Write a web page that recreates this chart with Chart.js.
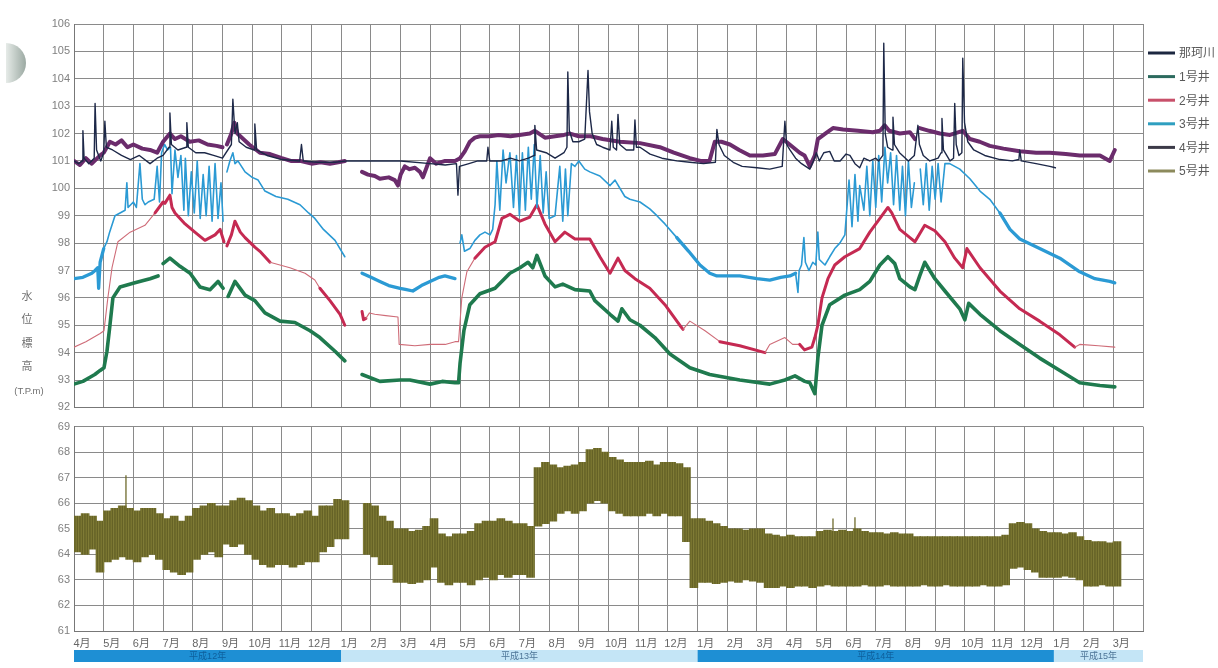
<!DOCTYPE html>
<html>
<head>
<meta charset="utf-8">
<script src="https://cdn.jsdelivr.net/npm/chart.js@4.4.1/dist/chart.umd.min.js"></script>
<style>
  html, body { margin: 0; padding: 0; background: #fff; }
  #wrap { position: relative; width: 1218px; height: 668px; overflow: hidden; background: #fff; }
  #upper { position: absolute; left: 0; top: 0; }
  #lower { position: absolute; left: 0; top: 416px; }
  #badge {
    position: absolute; left: 6px; top: 43px; width: 20px; height: 40px;
    border-radius: 0 20px 20px 0;
    background: linear-gradient(to right, #e6ebe8, #9ba9a2);
  }
</style>
</head>
<body>
<div id="wrap">
  <div id="badge"></div>
  <canvas id="upper" width="1218" height="418"></canvas>
  <canvas id="lower" width="1218" height="252"></canvas>
</div>
<script>
// ---- time axis: months counted from 平成12年4月 ----
const monthLabels = [
  '4月','5月','6月','7月','8月','9月','10月','11月','12月',
  '1月','2月','3月','4月','5月','6月','7月','8月','9月','10月','11月','12月',
  '1月','2月','3月','4月','5月','6月','7月','8月','9月','10月','11月','12月',
  '1月','2月','3月'
];
const eraBands = [
  ['平成12年', 0, 9],
  ['平成13年', 9, 21],
  ['平成14年', 21, 33],
  ['平成15年', 33, 36]
];
const seriesNames = ['那珂川', '1号井', '2号井', '3号井', '4号井', '5号井'];

// ---- water levels (T.P.m), [month, level]; null = no record ----
const naka = [
  [0,101.0],[0.15,100.9],[0.28,101.0],[0.30,102.1],[0.34,101.1],[0.5,100.9],[0.68,101.1],[0.71,103.1],[0.76,101.4],
  [0.9,101.0],[1.0,101.3],[1.04,102.45],[1.09,101.5],[1.3,101.4],[1.6,101.2],[1.9,101.05],[2.2,101.2],[2.56,100.9],
  [2.8,101.1],[3.0,101.2],[3.2,101.5],[3.23,102.75],[3.28,101.6],[3.5,101.4],[3.78,101.5],[3.80,102.4],[3.85,101.5],
  [4.1,101.3],[4.4,101.3],[4.7,101.2],[5.0,101.1],[5.3,101.6],[5.35,103.25],[5.42,102.0],[5.5,102.4],[5.56,101.7],
  [5.8,101.5],[6.07,101.4],[6.09,102.35],[6.15,101.4],[6.5,101.2],[7.0,101.05],[7.6,101.0],[7.66,101.6],[7.72,101.0],
  [8.2,100.95],[8.8,100.95],[9.2,101.0],[10.0,101.0],[11.0,101.0],[12.0,100.9],[12.5,100.85],[12.88,100.9],
  [12.93,99.75],[12.98,100.8],[13.3,100.9],[13.6,101.0],[13.9,101.0],[13.94,101.5],[14.0,101.0],[14.4,101.0],
  [14.7,101.1],[15.0,101.0],[15.3,101.1],[15.5,101.2],[15.52,102.3],[15.58,101.4],[15.9,101.3],[16.2,101.1],
  [16.5,101.3],[16.6,101.5],[16.63,104.25],[16.68,102.1],[16.8,101.7],[17.0,101.7],[17.2,101.8],[17.31,104.3],
  [17.36,102.8],[17.45,102.0],[17.6,101.6],[17.8,101.5],[18.05,101.4],[18.11,102.45],[18.16,101.5],[18.27,101.4],
  [18.32,102.7],[18.38,101.6],[18.6,101.4],[18.85,101.4],[18.89,102.5],[18.94,101.5],[19.06,101.5],[19.4,101.25],
  [19.8,101.1],[20.3,101.0],[20.74,100.95],[21.2,100.9],[21.6,100.95],[21.65,102.15],[21.72,101.6],[21.9,101.2],
  [22.2,100.95],[22.5,100.8],[23.0,100.75],[23.43,100.7],[23.85,100.8],[23.94,102.45],[24.0,101.6],[24.11,101.4],
  [24.3,101.1],[24.5,100.9],[24.78,100.7],[24.9,101.0],[25.0,101.3],[25.1,101.0],[25.25,101.3],[25.45,101.35],
  [25.6,101.0],[25.8,101.0],[26.0,101.25],[26.13,101.2],[26.3,100.9],[26.46,100.75],[26.6,101.1],[26.8,101.0],
  [27.0,101.1],[27.1,101.0],[27.24,101.2],[27.27,105.3],[27.32,102.0],[27.4,101.5],[27.55,101.4],[27.58,102.6],
  [27.63,101.6],[27.8,101.3],[28.1,101.0],[28.3,101.2],[28.42,102.3],[28.47,101.6],[28.6,101.2],[28.82,101.0],
  [29.1,101.1],[29.2,101.3],[29.23,102.55],[29.28,101.4],[29.5,101.0],[29.62,101.1],[29.66,103.1],[29.71,101.6],
  [29.8,101.2],[29.9,101.3],[29.93,104.75],[29.99,102.4],[30.1,101.7],[30.3,101.4],[30.67,101.2],[31.18,101.05],
  [31.6,101.0],[31.82,101.05],[31.85,101.4],[31.9,101.0],[32.4,100.9],[32.86,100.8],[33.05,100.75]
];

const well1 = [
  [0,92.85],[0.3,92.95],[0.54,93.1],[0.7,93.2],[0.88,93.35],[1.01,93.45],[1.11,94.05],[1.21,95.0],[1.31,96.0],
  [1.55,96.4],[2.05,96.55],[2.56,96.7],[2.83,96.8],[2.87,null],[3.0,97.25],[3.23,97.45],[3.57,97.15],[3.91,96.9],
  [4.24,96.4],[4.58,96.3],[4.85,96.6],[5.02,96.35],[5.08,null],[5.19,96.05],[5.42,96.6],[5.76,96.1],[6.09,95.9],
  [6.43,95.45],[6.94,95.15],[7.44,95.1],[7.95,94.8],[8.28,94.55],[8.79,94.05],[9.12,93.7],[9.2,null],[9.7,93.2],
  [10.3,92.95],[10.98,93.0],[11.31,93.0],[11.99,92.85],[12.4,92.95],[12.83,92.9],[12.95,92.9],[13.0,93.6],
  [13.13,94.8],[13.33,95.75],[13.67,96.15],[14.18,96.35],[14.68,96.9],[15.02,97.1],[15.29,97.3],[15.45,97.1],
  [15.59,97.55],[15.86,96.8],[16.2,96.4],[16.46,96.5],[16.87,96.3],[17.37,96.25],[17.54,95.9],[18.05,95.4],
  [18.32,95.15],[18.45,95.6],[18.72,95.2],[19.06,95.0],[19.56,94.55],[20.07,93.95],[20.74,93.45],[21.41,93.2],
  [22.42,93.0],[23.43,92.85],[23.94,93.0],[24.28,93.15],[24.61,92.95],[24.78,92.9],[24.95,92.5],[25.05,93.8],
  [25.19,95.0],[25.45,95.75],[25.96,96.1],[26.46,96.3],[26.8,96.6],[27.14,97.2],[27.41,97.5],[27.64,97.25],
  [27.81,96.7],[28.15,96.4],[28.32,96.3],[28.48,96.8],[28.65,97.3],[28.99,96.7],[29.33,96.25],[29.83,95.6],
  [30.0,95.2],[30.13,95.8],[30.51,95.4],[31.18,94.8],[31.85,94.3],[32.52,93.8],[33.2,93.35],[33.87,92.9],
  [34.55,92.8],[35.05,92.75]
];

const well2 = [
  [0,94.2],[0.4,94.4],[0.88,94.7],[1.01,94.8],[1.14,96.0],[1.28,97.1],[1.48,98.05],[1.89,98.4],[2.39,98.65],
  [2.73,99.1],[3.0,99.5],[3.06,99.45],[3.23,99.75],[3.3,99.3],[3.4,99.1],[3.74,98.7],[4.07,98.4],[4.41,98.1],
  [4.75,98.3],[4.92,98.5],[5.05,98.05],[5.1,null],[5.15,97.9],[5.3,98.3],[5.42,98.8],[5.6,98.4],[5.76,98.2],
  [6.09,97.85],[6.26,97.7],[6.6,97.3],[7.27,97.1],[7.78,96.9],[8.11,96.65],[8.28,96.35],[8.62,95.9],[8.96,95.4],
  [9.12,95.0],[9.2,null],[9.7,95.5],[9.75,95.2],[9.83,95.25],[9.95,95.45],[10.13,95.4],[10.5,95.35],[10.91,95.3],
  [10.95,94.3],[11.48,94.25],[12.0,94.3],[12.5,94.3],[12.83,94.4],[12.95,94.4],[13.06,96.0],[13.23,96.95],
  [13.5,97.45],[13.84,97.85],[14.18,98.05],[14.41,98.9],[14.68,99.05],[15.02,98.8],[15.35,98.95],[15.59,99.4],
  [15.86,98.7],[16.2,98.05],[16.53,98.4],[16.87,98.15],[17.37,98.15],[17.71,97.5],[18.05,96.9],[18.32,97.45],
  [18.55,97.0],[18.89,96.7],[19.39,96.35],[19.9,95.75],[20.4,95.0],[20.51,94.85],[20.74,95.15],[21.25,94.8],
  [21.75,94.4],[22.42,94.25],[23.27,94.0],[23.43,94.3],[23.94,94.55],[24.2,94.3],[24.44,94.3],[24.6,94.1],
  [24.85,94.2],[24.95,94.55],[25.05,95.0],[25.19,96.0],[25.39,96.7],[25.62,97.2],[25.96,97.5],[26.46,97.8],
  [26.8,98.4],[27.14,98.9],[27.41,99.3],[27.54,99.1],[27.81,98.5],[28.15,98.2],[28.32,98.05],[28.65,98.65],
  [28.99,98.45],[29.33,98.05],[29.66,97.45],[29.93,97.1],[30.07,97.8],[30.51,97.1],[31.18,96.25],[31.85,95.6],
  [32.52,95.15],[33.2,94.65],[33.7,94.2],[33.87,94.3],[34.5,94.25],[35.05,94.2]
];

const well3 = [
  [0,96.7],[0.3,96.75],[0.6,96.9],[0.71,97.0],[0.8,97.1],[0.83,96.35],[0.88,97.3],[1.0,97.8],[1.11,98.05],
  [1.2,98.4],[1.38,99.0],[1.55,99.1],[1.72,99.2],[1.78,100.2],[1.82,99.3],[2.0,99.5],[2.1,99.3],[2.22,100.9],
  [2.3,99.6],[2.39,99.4],[2.5,99.5],[2.7,99.6],[2.8,100.8],[2.88,99.5],[2.95,101.3],[3.05,101.6],[3.15,101.4],
  [3.25,101.5],[3.3,99.8],[3.4,101.4],[3.5,100.4],[3.6,101.2],[3.7,99.2],[3.75,101.1],[3.85,99.0],[3.95,100.6],
  [4.05,99.1],[4.15,101.0],[4.25,98.9],[4.35,100.5],[4.45,99.0],[4.55,100.8],[4.65,98.8],[4.75,100.9],[4.85,98.9],
  [4.95,100.2],[5.02,98.8],[5.06,null],[5.15,100.6],[5.25,101.0],[5.35,101.3],[5.42,100.9],[5.52,101.0],
  [5.76,100.6],[6.0,100.4],[6.2,100.3],[6.43,99.9],[6.8,99.7],[7.2,99.6],[7.61,99.4],[7.9,99.1],[8.11,98.9],
  [8.4,98.5],[8.79,98.1],[9.12,97.5],[9.2,null],[9.7,96.9],[10.0,96.75],[10.3,96.6],[10.6,96.45],[10.98,96.35],
  [11.2,96.3],[11.41,96.25],[11.7,96.45],[11.99,96.6],[12.3,96.75],[12.49,96.8],[12.83,96.7],[12.9,null],
  [13.0,98.0],[13.06,98.3],[13.15,97.7],[13.33,97.8],[13.5,98.1],[13.67,98.3],[13.84,98.4],[14.01,98.3],[14.1,98.5],
  [14.18,99.4],[14.24,101.0],[14.34,99.2],[14.45,101.4],[14.55,100.2],[14.68,101.3],[14.8,99.3],[14.9,101.2],
  [15.0,99.0],[15.1,101.3],[15.2,99.2],[15.3,101.5],[15.4,99.6],[15.5,101.6],[15.59,99.3],[15.7,101.2],[15.8,99.1],
  [15.9,100.6],[16.0,98.9],[16.2,99.0],[16.36,100.8],[16.46,98.8],[16.55,100.7],[16.63,99.0],[16.75,100.9],
  [16.87,100.8],[17.0,101.0],[17.2,100.7],[17.37,100.6],[17.71,100.45],[18.05,100.1],[18.22,100.3],[18.55,99.7],
  [18.72,99.6],[19.06,99.5],[19.39,99.25],[19.63,99.0],[19.9,98.7],[20.3,98.2],[20.7,97.7],[21.08,97.2],
  [21.41,96.9],[21.65,96.8],[22.42,96.8],[23.0,96.7],[23.43,96.65],[23.8,96.75],[24.11,96.8],[24.3,96.9],
  [24.38,96.2],[24.42,97.0],[24.5,97.2],[24.58,98.2],[24.63,97.3],[24.75,97.0],[24.88,97.3],[24.98,97.2],
  [25.05,98.4],[25.1,97.4],[25.29,97.2],[25.45,97.5],[25.62,97.8],[25.79,98.0],[25.96,98.3],[26.1,100.3],
  [26.2,98.6],[26.3,100.5],[26.4,98.8],[26.46,100.1],[26.6,99.2],[26.7,100.8],[26.8,99.0],[26.9,101.0],[27.0,99.3],
  [27.1,101.2],[27.2,99.5],[27.31,101.5],[27.4,100.2],[27.5,101.3],[27.6,99.4],[27.7,101.2],[27.81,99.2],
  [27.9,100.8],[28.0,99.0],[28.1,101.0],[28.2,99.3],[28.3,100.2],[28.38,null],[28.5,100.7],[28.6,99.4],
  [28.7,100.9],[28.8,99.2],[28.9,100.8],[29.0,99.6],[29.1,100.9],[29.2,99.5],[29.33,100.9],[29.49,100.9],
  [29.83,100.7],[30.17,100.35],[30.51,99.9],[30.84,99.6],[31.18,99.1],[31.52,98.5],[31.85,98.15],[32.52,97.8],
  [33.2,97.45],[33.87,96.95],[34.38,96.7],[34.88,96.6],[35.05,96.55]
];

const well4 = [
  [0,101.0],[0.2,100.85],[0.4,101.1],[0.6,100.9],[0.88,101.2],[1.0,101.3],[1.21,101.7],[1.4,101.6],[1.6,101.75],
  [1.8,101.5],[2.0,101.6],[2.3,101.45],[2.56,101.4],[2.8,101.3],[3.0,101.7],[3.23,102.0],[3.4,101.8],[3.6,101.9],
  [3.9,101.7],[4.2,101.75],[4.5,101.6],[4.8,101.55],[5.0,101.5],[5.08,null],[5.15,101.6],[5.3,102.0],[5.4,102.4],
  [5.5,102.0],[5.7,101.8],[5.9,101.6],[6.26,101.3],[6.6,101.25],[7.0,101.1],[7.3,101.0],[7.61,101.0],[8.0,100.9],
  [8.3,100.95],[8.62,100.9],[8.9,100.95],[9.12,101.0],[9.2,null],[9.7,100.6],[9.9,100.5],[10.13,100.45],
  [10.3,100.35],[10.6,100.4],[10.8,100.3],[10.91,100.1],[11.0,100.5],[11.14,100.8],[11.3,100.7],[11.48,100.75],
  [11.65,100.6],[11.75,100.4],[11.99,101.1],[12.2,100.9],[12.5,101.0],[12.83,101.0],[13.0,101.1],[13.16,101.35],
  [13.33,101.7],[13.5,101.85],[13.67,101.9],[14.0,101.9],[14.3,101.95],[14.7,101.9],[15.0,101.95],[15.35,102.0],
  [15.52,102.1],[15.86,101.85],[16.2,101.9],[16.5,101.95],[16.7,102.0],[17.0,101.9],[17.4,101.9],[17.8,101.8],
  [18.38,101.7],[19.06,101.65],[19.73,101.5],[20.2,101.3],[20.74,101.1],[21.1,101.0],[21.4,101.0],[21.58,101.7],
  [21.8,101.7],[22.09,101.6],[22.4,101.4],[22.76,101.2],[23.2,101.2],[23.6,101.25],[23.87,101.8],[24.1,101.6],
  [24.44,101.3],[24.6,101.2],[24.78,100.8],[24.95,101.2],[25.05,101.8],[25.3,102.0],[25.56,102.2],[25.9,102.15],
  [26.4,102.1],[26.9,102.05],[27.14,102.1],[27.3,102.3],[27.45,102.1],[27.81,102.0],[28.15,102.05],[28.32,101.8],
  [28.4,null],[28.48,102.2],[28.8,102.1],[29.16,102.0],[29.5,101.95],[29.93,102.1],[30.17,101.8],[30.5,101.7],
  [30.84,101.55],[31.3,101.45],[31.85,101.35],[32.4,101.3],[32.86,101.3],[33.4,101.25],[33.87,101.2],[34.3,101.2],
  [34.55,101.2],[34.88,101.0],[35.05,101.4]
];

// 5号井: weekly low / high of the record, one row per month (4 weeks)
const well5Lo = [
  [64.1,64.0,64.2,63.3],[63.7,63.8,63.9,63.8],[63.7,63.9,64.0,63.8],[63.4,63.3,63.2,63.3],
  [63.8,64.0,64.1,63.9],[64.4,64.3,64.4,64.0],[63.8,63.6,63.5,63.6],[63.6,63.5,63.6,63.7],
  [63.7,64.1,64.3,64.6],[64.6,null,null,64.0],[63.9,63.6,63.6,62.9],[62.9,62.85,62.9,63.0],
  [63.5,62.9,62.8,62.9],[62.9,62.8,63.0,63.1],[63.0,63.2,63.1,63.2],[63.2,63.1,65.1,65.2],
  [65.3,65.6,65.7,65.6],[65.7,66.0,66.1,66.0],[65.7,65.6,65.5,65.5],[65.5,65.6,65.5,65.6],
  [65.5,65.5,64.5,62.7],[62.9,62.9,62.85,62.9],[62.95,62.9,63.0,62.95],[62.9,62.7,62.7,62.75],
  [62.7,62.75,62.75,62.7],[62.75,62.8,62.75,62.75],[62.75,62.75,62.8,62.75],[62.75,62.8,62.75,62.75],
  [62.75,62.75,62.8,62.75],[62.75,62.8,62.75,62.75],[62.75,62.75,62.8,62.75],[62.75,62.8,63.45,63.5],
  [63.4,63.3,63.1,63.1],[63.1,63.15,63.1,63.0],[62.75,62.75,62.8,62.75],[62.75,null,null,null]
];
const well5Hi = [
  [65.5,65.6,65.5,65.3],[65.7,65.8,65.9,65.8],[65.7,65.8,65.8,65.6],[65.4,65.5,65.3,65.5],
  [65.8,65.9,66.0,65.9],[65.9,66.1,66.2,66.1],[65.9,65.7,65.8,65.6],[65.6,65.5,65.6,65.7],
  [65.5,65.9,65.9,66.15],[66.1,null,null,66.0],[65.9,65.5,65.3,65.0],[65.0,64.9,64.95,65.1],
  [65.4,64.8,64.7,64.8],[64.8,64.9,65.2,65.3],[65.3,65.4,65.3,65.2],[65.2,65.1,67.4,67.6],
  [67.5,67.4,67.45,67.5],[67.6,68.1,68.15,68.0],[67.8,67.7,67.6,67.6],[67.6,67.65,67.5,67.6],
  [67.6,67.55,67.4,65.4],[65.4,65.3,65.2,65.1],[65.0,65.0,64.95,65.0],[65.0,64.8,64.75,64.7],
  [64.75,64.7,64.7,64.7],[64.9,64.95,64.9,64.95],[64.9,65.0,64.9,64.85],[64.85,64.8,64.85,64.8],
  [64.8,64.7,64.7,64.7],[64.7,64.7,64.7,64.7],[64.7,64.7,64.7,64.7],[64.7,64.75,65.2,65.25],
  [65.2,65.0,64.9,64.85],[64.85,64.8,64.85,64.7],[64.55,64.5,64.5,64.45],[64.5,null,null,null]
];
// isolated short peaks: [month, from, to]
const well5Peaks = [[1.75,65.7,67.1],[25.56,64.9,65.4],[26.3,64.9,65.45]];

// ---- styling ----
const FONT = '"Liberation Sans", "Noto Sans CJK JP", sans-serif';
const gridColor = '#8a8a8a';
const tickColor = '#808080';
const lineColors = {
  naka: '#1d2848', w1: '#1f7a4e', w2: '#c52a52', w2thin: '#cf6c78', w3: '#2b9ad4', w4: '#6b2c6c'
};
const legendColors = ['#1c2740', '#2c6a5e', '#c8506a', '#2f9fc0', '#3c3a48', '#8c8a5c'];
// spans (in months) where a record is drawn thinner / thicker
const thinSpans2 = [[0,2.7],[6.3,8.25],[9.83,13.45],[20.5,21.6],[23.27,24.3],[33.7,35.2]];
const thickSpans3 = [[0,0.9],[9.6,12.9],[20.3,24.3],[31.0,35.2]];

const inSpans = (x, spans) => spans.some(([a, b]) => x >= a && x < b);
const toXY = pts => pts.map(([x, y]) => ({ x, y }));

function lineSet(label, pts, color, width, segment) {
  const ds = {
    label, data: toXY(pts), borderColor: color, borderWidth: width,
    pointRadius: 0, tension: 0, spanGaps: false, borderJoinStyle: 'round', borderCapStyle: 'round'
  };
  if (segment) ds.segment = segment;
  return ds;
}

const sideLegend = {
  id: 'sideLegend',
  afterDraw(chart) {
    const ctx = chart.ctx;
    ctx.save();
    ctx.font = '12px ' + FONT;
    ctx.textBaseline = 'middle';
    ctx.textAlign = 'left';
    seriesNames.forEach((name, i) => {
      const y = 53 + i * 23.6;
      ctx.strokeStyle = legendColors[i];
      ctx.lineWidth = 3;
      ctx.beginPath(); ctx.moveTo(1148, y); ctx.lineTo(1175, y); ctx.stroke();
      ctx.fillStyle = '#5a5a5a';
      ctx.fillText(name, 1179, y + 1);
    });
    ctx.restore();
  }
};

const yTitle = {
  id: 'yTitle',
  afterDraw(chart) {
    const ctx = chart.ctx;
    ctx.save();
    ctx.fillStyle = '#707070';
    ctx.textAlign = 'center';
    ctx.textBaseline = 'middle';
    ctx.font = '11px ' + FONT;
    ['水', '位', '標', '高'].forEach((ch, i) => ctx.fillText(ch, 27, 297 + i * 23.4));
    ctx.font = '9.5px ' + FONT;
    ctx.fillText('(T.P.m)', 29, 391);
    ctx.restore();
  }
};

const eraStrip = {
  id: 'eraStrip',
  afterDraw(chart) {
    const { ctx, scales: { x } } = chart;
    ctx.save();
    eraBands.forEach(([name, from, to], i) => {
      const x0 = x.getPixelForValue(from), x1 = x.getPixelForValue(to);
      const dark = i % 2 === 0;
      ctx.fillStyle = dark ? '#1e8fd4' : '#c4e5f6';
      ctx.fillRect(x0, 234, x1 - x0, 12);
      ctx.fillStyle = dark ? '#0e5f9c' : '#4d7597';
      ctx.font = '9px ' + FONT;
      ctx.textAlign = 'center';
      ctx.textBaseline = 'middle';
      ctx.fillText(name, (x0 + x1) / 2, 240.5);
    });
    ctx.restore();
  }
};

const axisCommon = {
  grid: { color: gridColor, lineWidth: 1, drawTicks: false },
  border: { color: '#777', width: 1 }
};

// ---- upper panel: river and wells 1-4 ----
new Chart(document.getElementById('upper'), {
  type: 'line',
  data: {
    datasets: [
      lineSet(seriesNames[0], naka, lineColors.naka, 1.4),
      lineSet(seriesNames[4], well4, lineColors.w4, 4),
      lineSet(seriesNames[3], well3, lineColors.w3, 1.6, {
        borderWidth: ctx => inSpans(ctx.p0.parsed.x, thickSpans3) ? 3.3 : 1.6
      }),
      lineSet(seriesNames[2], well2, lineColors.w2, 3, {
        borderWidth: ctx => inSpans(ctx.p0.parsed.x, thinSpans2) ? 1.1 : 3,
        borderColor: ctx => inSpans(ctx.p0.parsed.x, thinSpans2) ? lineColors.w2thin : lineColors.w2
      }),
      lineSet(seriesNames[1], well1, lineColors.w1, 3.6)
    ]
  },
  options: {
    responsive: false, animation: false, events: [],
    layout: { padding: { left: 0, top: 24, right: 75, bottom: 8 } },
    plugins: { legend: { display: false }, tooltip: { enabled: false } },
    scales: {
      x: {
        type: 'linear', min: 0, max: 36,
        ticks: { stepSize: 1, maxTicksLimit: 40, display: false },
        ...axisCommon,
        afterFit(s) { s.height = 0; }
      },
      y: {
        min: 92, max: 106,
        ticks: { stepSize: 1, color: tickColor, padding: 4, font: { size: 11, family: FONT } },
        ...axisCommon,
        afterFit(s) { s.width = 74; }
      }
    }
  },
  plugins: [sideLegend, yTitle]
});

// ---- lower panel: well 5 ----
const lowerCanvas = document.getElementById('lower');
function oliveTexture(ctx) {
  const c = document.createElement('canvas');
  c.width = 5; c.height = 4;
  const g = c.getContext('2d');
  ['#6d6a2b', '#78742f', '#656226', '#7f7b36', '#6a6729']
    .forEach((col, i) => { g.fillStyle = col; g.fillRect(i, 0, 1, 4); });
  return ctx.createPattern(c, 'repeat');
}

const weekBars = [];
well5Lo.forEach((row, m) => row.forEach((lo, w) => {
  const hi = well5Hi[m][w];
  weekBars.push({ x: m + (w + 0.5) / 4, y: lo === null ? null : [lo, hi] });
}));
const peakLines = [];
well5Peaks.forEach(([t, a, b]) => {
  peakLines.push({ x: t, y: a }, { x: t, y: b }, { x: t, y: null });
});

new Chart(lowerCanvas, {
  type: 'bar',
  data: {
    datasets: [
      {
        type: 'line', label: seriesNames[5], data: peakLines, borderColor: '#6e6a2c',
        borderWidth: 1.3, pointRadius: 0, spanGaps: false
      },
      {
        type: 'bar', label: seriesNames[5], data: weekBars,
        backgroundColor: oliveTexture(lowerCanvas.getContext('2d')),
        borderWidth: 0, barThickness: 8, grouped: false
      }
    ]
  },
  options: {
    responsive: false, animation: false, events: [],
    layout: { padding: { left: 0, top: 7, right: 75, bottom: 0 } },
    plugins: { legend: { display: false }, tooltip: { enabled: false } },
    scales: {
      x: {
        type: 'linear', min: 0, max: 36, offset: false,
        ticks: {
          stepSize: 1, maxTicksLimit: 40, autoSkip: false, maxRotation: 0,
          color: '#666', padding: 6, labelOffset: 8,
          font: { size: 11, family: FONT },
          callback: v => monthLabels[v] ?? ''
        },
        grid: { color: gridColor, lineWidth: 1, drawTicks: false, offset: false },
        border: { color: '#777', width: 1 },
        afterFit(s) { s.height = 37; }
      },
      y: {
        min: 61, max: 69,
        ticks: { stepSize: 1, color: tickColor, padding: 4, font: { size: 11, family: FONT } },
        ...axisCommon,
        afterFit(s) { s.width = 74; }
      }
    }
  },
  plugins: [eraStrip]
});
</script>
</body>
</html>
